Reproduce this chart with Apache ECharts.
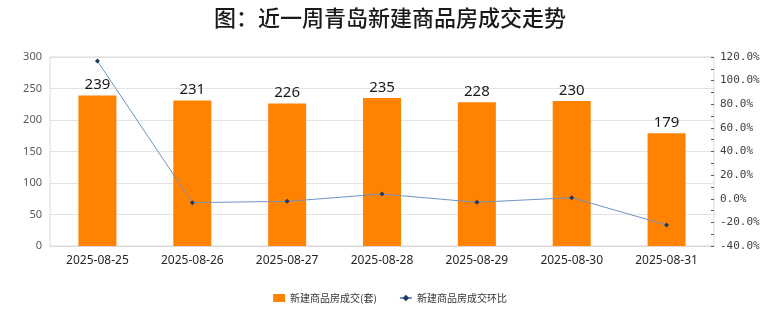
<!DOCTYPE html>
<html><head><meta charset="utf-8">
<script src="https://cdn.jsdelivr.net/npm/echarts@6/dist/echarts.min.js"></script>
<style>html,body{margin:0;padding:0;background:#fff}#c{width:780px;height:328px}</style>
</head><body><div id="c"></div>
<script>
const categories = ['2025-08-25','2025-08-26','2025-08-27','2025-08-28','2025-08-29','2025-08-30','2025-08-31'];
const deals = [239, 231, 226, 235, 228, 230, 179];
const ratio = [116.6, -3.3, -2.2, 4.0, -3.0, 0.9, -22.2];
const chart = echarts.init(document.getElementById('c'));
chart.setOption({
  animation: false,
  backgroundColor: '#ffffff',
  title: {
    text: '图：近一周青岛新建商品房成交走势',
    left: 'center', top: 2,
    textStyle: {fontSize: 22, fontWeight: 500, color: '#1a1a1a', fontFamily: 'Noto Sans CJK SC'}
  },
  legend: {
    bottom: 20, left: 'center', itemGap: 22, itemWidth: 12, itemHeight: 8,
    textStyle: {fontSize: 10, color: '#333', fontFamily: 'Noto Sans CJK SC'},
    data: [
      {name: '新建商品房成交(套)', icon: 'rect'},
      {name: '新建商品房成交环比'}
    ]
  },
  grid: {left: 50, right: 66, top: 57, bottom: 82, show: true, borderColor: '#d9d9d9', borderWidth: 1},
  xAxis: {
    type: 'category', data: categories,
    axisLine: {lineStyle: {color: '#d9d9d9'}},
    axisTick: {show: false},
    axisLabel: {fontSize: 12, color: '#262626', margin: 9, fontFamily: 'Noto Sans'}
  },
  yAxis: [
    {type: 'value', min: 0, max: 300, interval: 50,
     axisLine: {show: false}, axisTick: {show: false},
     splitLine: {lineStyle: {color: '#e3e3e3'}},
     axisLabel: {fontSize: 11, color: '#595959', margin: 8, fontFamily: 'Noto Sans'}},
    {type: 'value', min: -40, max: 120, interval: 10, position: 'right',
     axisLine: {show: false},
     axisTick: {show: true, inside: true, length: 3, lineStyle: {color: '#595959'}},
     splitLine: {show: false},
     axisLabel: {fontSize: 11, color: '#404040', margin: 6, fontFamily: 'DejaVu Sans Mono',
       formatter: v => (Math.round(v) % 20 === 0 ? v.toFixed(1) + '%' : '')}}
  ],
  series: [
    {name: '新建商品房成交(套)', type: 'bar', data: deals, barWidth: 38,
     itemStyle: {color: '#ff8200'},
     label: {show: true, position: 'top', fontSize: 15, color: '#1a1a1a', distance: 3, fontFamily: 'Noto Sans'}},
    {name: '新建商品房成交环比', type: 'line', yAxisIndex: 1, data: ratio,
     symbol: 'diamond', symbolSize: 5,
     lineStyle: {color: '#6e93c4', width: 1},
     itemStyle: {color: '#1f3a5f'}}
  ]
});
</script></body></html>
